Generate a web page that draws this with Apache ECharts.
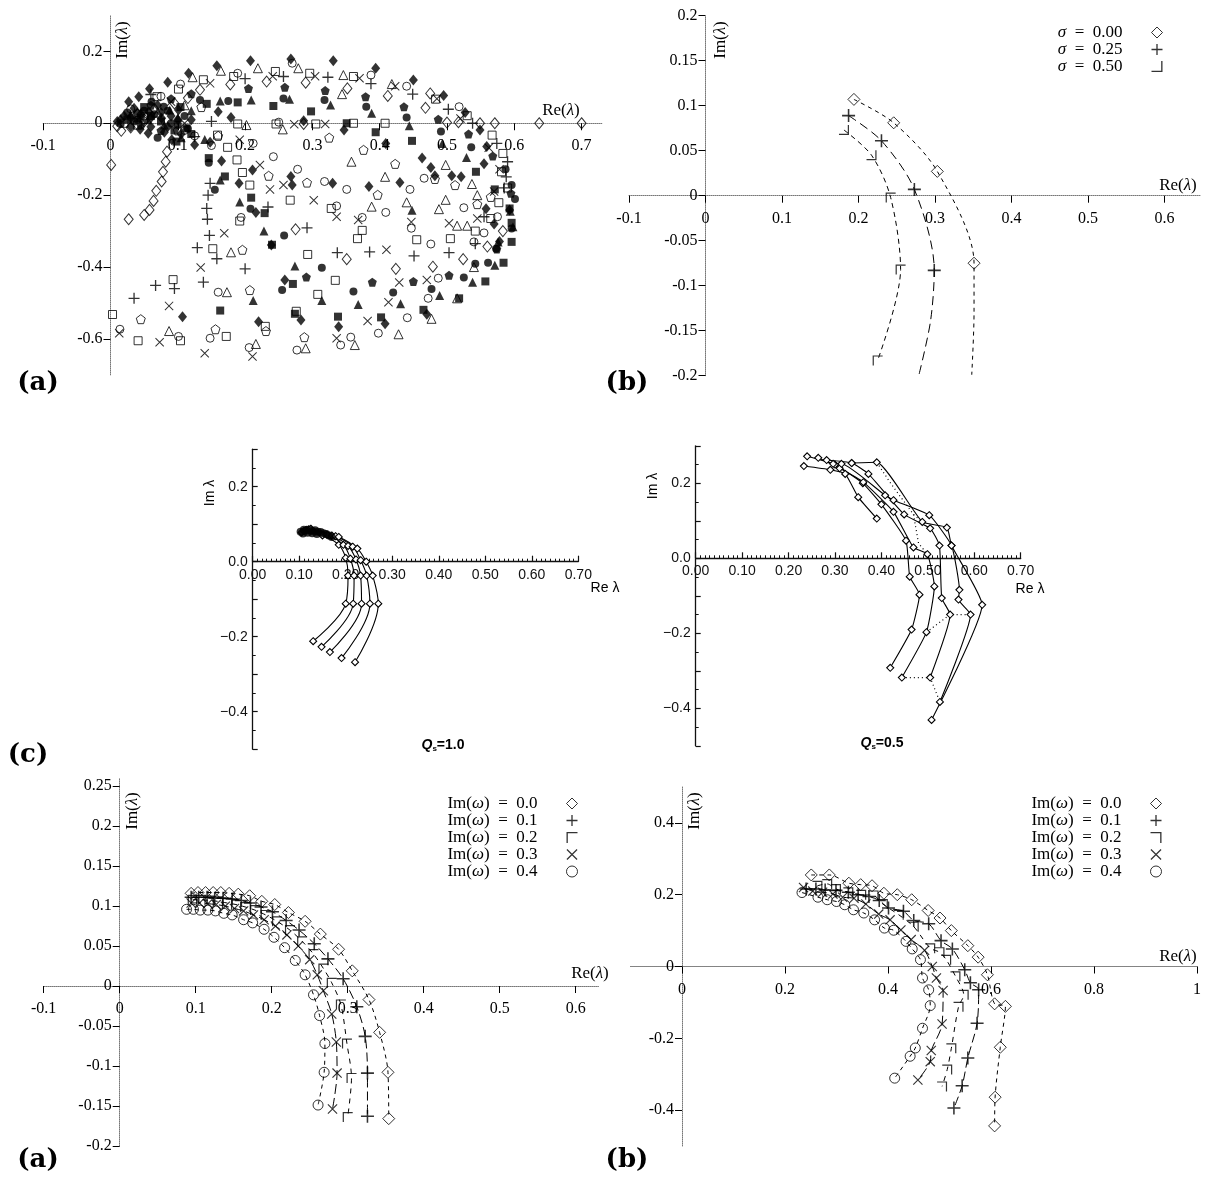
<!DOCTYPE html>
<html><head><meta charset="utf-8">
<script src="https://cdn.jsdelivr.net/npm/echarts@6/dist/echarts.min.js"></script>
<style>html,body{margin:0;padding:0;background:#fff}#c{width:1211px;height:1179px}</style>
</head><body><div id="c"></div><script>
// ---------------- DATA ----------------
// Panel top (a): scatter of eigenvalues, 12 marker kinds
const aDiamondFilled = [[0.331,0.174],[0.268,0.179],[0.208,0.174],[0.158,0.160],[0.116,0.139],[0.085,0.114],[0.058,0.096],[0.042,0.074],[0.027,0.060],[0.394,0.153],[0.450,0.120],[0.495,0.077],[0.527,0.030],[0.160,0.032],[0.179,0.016],[0.287,0.007],[0.347,-0.019],[0.549,-0.019],[0.409,-0.056],[0.559,-0.065],[0.463,-0.097],[0.476,-0.123],[0.482,-0.146],[0.507,-0.146],[0.521,-0.149],[0.555,-0.113],[0.384,-0.176],[0.430,-0.165],[0.330,-0.167],[0.148,-0.053],[0.165,-0.105],[0.211,-0.130],[0.191,-0.167],[0.268,-0.148],[0.270,-0.172],[0.216,-0.248],[0.239,-0.339],[0.259,-0.436],[0.220,-0.552],[0.283,-0.547],[0.107,-0.538],[0.470,-0.531],[0.339,-0.566],[0.408,-0.558],[0.558,-0.238],[0.593,-0.241],[0.570,-0.280],[0.578,-0.329],[0.076,0.014],[0.057,0.032],[0.101,0.037],[0.044,-0.017],[0.056,-0.028],[0.091,-0.046],[0.020,0.020],[0.035,0.042],[0.070,0.050],[0.120,0.010],[0.125,-0.060],[0.010,0.005],[0.085,-0.010],[0.105,-0.030],[0.015,0.010],[0.030,0.015],[0.045,0.025],[0.060,0.015],[0.075,0.030],[0.090,0.020],[0.100,0.010],[0.030,-0.010],[0.060,-0.010],[0.080,-0.025]];
const aDiamondOpen = [[0.700,0.000],[0.637,0.000],[0.571,0.000],[0.549,0.000],[0.517,0.003],[0.500,0.002],[0.475,0.083],[0.468,0.043],[0.412,0.076],[0.352,0.097],[0.290,0.113],[0.232,0.116],[0.178,0.108],[0.133,0.093],[0.287,-0.002],[0.001,-0.116],[0.016,-0.021],[0.084,-0.079],[0.082,-0.107],[0.078,-0.135],[0.076,-0.162],[0.068,-0.188],[0.064,-0.216],[0.058,-0.241],[0.050,-0.255],[0.027,-0.267],[0.275,-0.295],[0.351,-0.378],[0.424,-0.405],[0.479,-0.399],[0.524,-0.378],[0.560,-0.343],[0.583,-0.300],[0.095,0.055],[0.065,0.040],[0.040,0.025],[0.010,-0.008],[0.030,-0.012],[0.050,0.005],[0.115,0.070]];
const aPentFilled = [[0.120,0.082],[0.205,0.097],[0.259,0.100],[0.319,0.091],[0.379,0.074],[0.436,0.046],[0.487,0.011],[0.532,-0.030],[0.568,-0.091],[0.574,-0.350],[0.503,-0.423],[0.450,-0.440],[0.389,-0.442],[0.291,-0.428],[0.060,0.050],[0.090,0.068],[0.040,0.030],[0.595,-0.195],[0.075,-0.020],[0.045,-0.005]];
const aPentOpen = [[0.376,-0.074],[0.423,-0.113],[0.482,-0.155],[0.512,-0.172],[0.397,-0.199],[0.235,-0.146],[0.292,-0.165],[0.325,-0.040],[0.196,-0.352],[0.207,-0.464],[0.045,-0.545],[0.156,-0.573],[0.231,-0.578],[0.288,-0.595],[0.160,-0.035],[0.100,-0.020],[0.050,0.012],[0.545,-0.225],[0.565,-0.205],[0.135,0.045]];
const aCircleFilled = [[0.133,0.065],[0.175,0.062],[0.257,0.069],[0.318,0.065],[0.380,0.046],[0.440,0.016],[0.491,-0.023],[0.536,-0.067],[0.587,-0.128],[0.596,-0.172],[0.601,-0.211],[0.596,-0.293],[0.573,-0.349],[0.542,-0.391],[0.561,-0.388],[0.525,-0.429],[0.477,-0.461],[0.420,-0.471],[0.361,-0.468],[0.314,-0.402],[0.255,-0.464],[0.208,-0.238],[0.258,-0.312],[0.146,-0.110],[0.155,-0.185],[0.061,0.060],[0.079,0.046],[0.090,0.000],[0.070,-0.040],[0.040,0.010],[0.025,0.030],[0.110,0.020],[0.015,-0.002],[0.035,0.005],[0.050,0.035],[0.065,0.025],[0.085,0.035],[0.100,-0.005],[0.115,-0.015]];
const aCircleOpen = [[0.270,0.167],[0.189,0.139],[0.387,0.134],[0.104,0.109],[0.440,0.103],[0.518,0.046],[0.242,-0.093],[0.212,-0.056],[0.278,-0.128],[0.318,-0.162],[0.466,-0.153],[0.445,-0.184],[0.351,-0.184],[0.409,-0.248],[0.447,-0.292],[0.476,-0.336],[0.487,-0.431],[0.472,-0.487],[0.441,-0.541],[0.398,-0.584],[0.357,-0.595],[0.342,-0.617],[0.277,-0.631],[0.206,-0.624],[0.148,-0.598],[0.101,-0.593],[0.014,-0.573],[0.160,-0.470],[0.194,-0.262],[0.336,-0.230],[0.374,-0.262],[0.540,-0.330],[0.555,-0.305],[0.575,-0.260],[0.075,0.075],[0.050,0.020],[0.030,0.040],[0.110,-0.020],[0.125,-0.035],[0.150,-0.062],[0.250,0.003],[0.525,-0.235]];
const aTriFilled = [[0.163,0.062],[0.209,0.065],[0.266,0.067],[0.327,0.051],[0.388,0.028],[0.444,-0.007],[0.493,-0.056],[0.529,-0.095],[0.163,-0.158],[0.192,-0.219],[0.228,-0.300],[0.274,-0.397],[0.212,-0.493],[0.314,-0.493],[0.368,-0.504],[0.431,-0.502],[0.489,-0.479],[0.538,-0.442],[0.571,-0.395],[0.598,-0.288],[0.448,-0.242],[0.088,0.037],[0.105,-0.040],[0.594,-0.245],[0.576,-0.330],[0.030,0.025],[0.055,0.010],[0.080,-0.005],[0.100,0.015],[0.120,0.035],[0.140,-0.045]];
const aTriOpen = [[0.279,0.153],[0.219,0.153],[0.164,0.146],[0.122,0.128],[0.346,0.134],[0.344,0.081],[0.418,0.109],[0.358,-0.107],[0.408,-0.149],[0.498,-0.116],[0.537,-0.169],[0.388,-0.232],[0.440,-0.220],[0.498,-0.213],[0.488,-0.239],[0.515,-0.285],[0.173,-0.470],[0.087,-0.578],[0.216,-0.614],[0.290,-0.626],[0.363,-0.617],[0.428,-0.587],[0.477,-0.544],[0.515,-0.487],[0.179,-0.359],[0.202,-0.005],[0.256,-0.017],[0.545,-0.200],[0.530,-0.285],[0.540,-0.400],[0.070,0.030],[0.110,0.050]];
const aSquareFilled = [[0.104,0.045],[0.143,0.054],[0.189,0.058],[0.242,0.048],[0.298,0.033],[0.351,0.000],[0.394,-0.025],[0.448,-0.049],[0.543,-0.135],[0.571,-0.184],[0.593,-0.237],[0.596,-0.277],[0.596,-0.330],[0.584,-0.388],[0.557,-0.440],[0.518,-0.487],[0.465,-0.519],[0.402,-0.540],[0.338,-0.538],[0.274,-0.530],[0.163,-0.521],[0.271,-0.447],[0.240,-0.338],[0.209,-0.207],[0.229,-0.250],[0.170,-0.148],[0.146,-0.097],[0.113,-0.014],[0.098,-0.051],[0.060,0.020],[0.025,0.010],[0.045,0.015],[0.075,0.005],[0.095,-0.020],[0.120,-0.030],[0.050,0.045]];
const aSquareOpen = [[0.069,0.074],[0.101,0.095],[0.138,0.121],[0.183,0.130],[0.245,0.144],[0.296,0.139],[0.361,0.130],[0.483,0.067],[0.530,0.021],[0.567,-0.033],[0.583,-0.084],[0.581,-0.135],[0.577,-0.221],[0.565,-0.265],[0.542,-0.300],[0.505,-0.321],[0.455,-0.324],[0.374,-0.298],[0.367,-0.321],[0.328,-0.237],[0.267,-0.214],[0.192,-0.272],[0.152,-0.349],[0.093,-0.435],[0.003,-0.532],[0.041,-0.605],[0.104,-0.605],[0.172,-0.593],[0.230,-0.565],[0.276,-0.523],[0.308,-0.476],[0.334,-0.437],[0.293,-0.365],[0.189,-0.002],[0.246,-0.002],[0.305,-0.002],[0.361,0.000],[0.408,0.000],[0.159,-0.033],[0.174,-0.067],[0.188,-0.102],[0.196,-0.137],[0.207,-0.172],[0.020,0.000],[0.040,-0.005],[0.590,-0.180]];
const aPlus = [[0.200,0.124],[0.257,0.130],[0.323,0.128],[0.387,0.110],[0.449,0.081],[0.502,0.039],[0.538,0.000],[0.574,-0.056],[0.590,-0.107],[0.588,-0.149],[0.585,-0.180],[0.542,-0.335],[0.503,-0.360],[0.451,-0.369],[0.385,-0.358],[0.337,-0.360],[0.292,-0.291],[0.234,-0.233],[0.200,-0.405],[0.158,-0.377],[0.129,-0.346],[0.147,-0.312],[0.144,-0.267],[0.143,-0.237],[0.145,-0.200],[0.148,-0.167],[0.138,-0.442],[0.095,-0.460],[0.067,-0.451],[0.035,-0.487],[0.125,-0.037],[0.150,0.005],[0.060,0.080],[0.555,-0.260]];
const aCross = [[0.148,0.111],[0.241,0.131],[0.304,0.131],[0.370,0.125],[0.423,0.103],[0.485,0.068],[0.520,0.013],[0.562,-0.068],[0.578,-0.128],[0.570,-0.190],[0.545,-0.265],[0.503,-0.278],[0.447,-0.275],[0.368,-0.269],[0.336,-0.260],[0.410,-0.352],[0.429,-0.443],[0.413,-0.498],[0.382,-0.550],[0.336,-0.598],[0.169,-0.306],[0.134,-0.401],[0.087,-0.508],[0.013,-0.584],[0.073,-0.609],[0.140,-0.640],[0.211,-0.649],[0.192,-0.046],[0.222,-0.116],[0.237,-0.184],[0.257,-0.172],[0.273,-0.003],[0.319,-0.002],[0.302,-0.214],[0.470,-0.436],[0.090,0.060],[0.110,0.000]];

// Panel top (b): sigma curves (markers) and the dashed curves through them
const sigmaNames = ['σ = 0.00','σ = 0.25','σ = 0.50'];
const sig0Marks = [[0.194,0.107],[0.246,0.081],[0.303,0.027],[0.351,-0.075]];
const sig25Marks = [[0.187,0.089],[0.230,0.061],[0.273,0.007],[0.299,-0.083]];
const sig50Marks = [[0.181,0.073],[0.217,0.045],[0.242,-0.002],[0.255,-0.082],[0.225,-0.183]];
const sig0Curve = [[0.194,0.107],[0.246,0.081],[0.303,0.027],[0.351,-0.075],[0.351,-0.130],[0.348,-0.199]];
const sig25Curve = [[0.187,0.089],[0.230,0.061],[0.273,0.007],[0.299,-0.083],[0.294,-0.140],[0.279,-0.199]];
const sig50Curve = [[0.181,0.073],[0.217,0.045],[0.242,-0.002],[0.255,-0.082],[0.225,-0.183]];

// Panel (c): scanned plots, Q=1.0 (left) and Q=0.5 (right)
const q1Curve0 = [[0.105,0.078],[0.150,0.070],[0.185,0.045],[0.200,0.010],[0.205,-0.037],[0.200,-0.112],[0.130,-0.212]];
const q1Curve1 = [[0.110,0.082],[0.160,0.072],[0.195,0.045],[0.210,0.008],[0.218,-0.037],[0.216,-0.112],[0.148,-0.227]];
const q1Curve2 = [[0.115,0.085],[0.170,0.070],[0.205,0.042],[0.222,0.006],[0.232,-0.037],[0.234,-0.112],[0.166,-0.241]];
const q1Curve3 = [[0.120,0.086],[0.178,0.068],[0.215,0.040],[0.232,0.004],[0.245,-0.037],[0.252,-0.112],[0.191,-0.257]];
const q1Curve4 = [[0.125,0.088],[0.185,0.066],[0.225,0.035],[0.244,0.000],[0.258,-0.037],[0.270,-0.112],[0.220,-0.268]];
const q1Blob = [[0.103,0.080],[0.110,0.085],[0.116,0.083],[0.122,0.086],[0.128,0.082],[0.134,0.084],[0.140,0.080],[0.146,0.079],[0.152,0.076],[0.158,0.074],[0.108,0.075],[0.118,0.077],[0.128,0.076],[0.138,0.074],[0.164,0.070],[0.170,0.066]];
const q2Curve0 = [[0.233,0.246],[0.290,0.236],[0.322,0.225],[0.350,0.163],[0.390,0.106]];
const q2Curve1 = [[0.240,0.272],[0.300,0.250],[0.360,0.200],[0.400,0.144],[0.453,0.047],[0.461,-0.049],[0.482,-0.097],[0.465,-0.190],[0.419,-0.292]];
const q2Curve2 = [[0.264,0.268],[0.310,0.240],[0.361,0.203],[0.426,0.124],[0.469,0.029],[0.499,0.011],[0.514,-0.075],[0.497,-0.197],[0.444,-0.318]];
const q2Curve3 = [[0.282,0.262],[0.336,0.254],[0.372,0.225],[0.449,0.117],[0.505,0.080],[0.525,0.034],[0.530,-0.106],[0.548,-0.150],[0.505,-0.318]];
const q2Curve4 = [[0.296,0.252],[0.314,0.252],[0.408,0.168],[0.426,0.155],[0.503,0.115],[0.551,0.034],[0.568,-0.084],[0.566,-0.110],[0.592,-0.150],[0.526,-0.383]];
const q2Curve5 = [[0.336,0.254],[0.390,0.256],[0.488,0.097],[0.541,0.082],[0.551,0.034],[0.617,-0.124],[0.508,-0.431]];
const q2Dotted0 = [[0.444,-0.318],[0.505,-0.318],[0.526,-0.383]];
const q2Dotted1 = [[0.497,-0.197],[0.548,-0.150],[0.592,-0.150]];
const q2Dotted2 = [[0.390,0.256],[0.420,0.200],[0.469,0.117],[0.488,0.097]];
const q2Dotted3 = [[0.469,0.117],[0.480,0.040],[0.499,0.011]];

// Panels bottom (a) and (b): Im(omega) families
const omegaNames = ['Im(ω) = 0.0','Im(ω) = 0.1','Im(ω) = 0.2','Im(ω) = 0.3','Im(ω) = 0.4'];
const wa0 = [[0.094,0.116],[0.103,0.117],[0.113,0.117],[0.123,0.117],[0.133,0.117],[0.144,0.116],[0.156,0.115],[0.171,0.113],[0.187,0.106],[0.204,0.102],[0.222,0.092],[0.244,0.081],[0.264,0.065],[0.288,0.046],[0.306,0.019],[0.328,-0.017],[0.342,-0.058],[0.353,-0.108],[0.354,-0.166]];
const wa1 = [[0.094,0.111],[0.104,0.111],[0.115,0.111],[0.125,0.110],[0.136,0.110],[0.148,0.109],[0.160,0.107],[0.172,0.104],[0.186,0.099],[0.201,0.093],[0.219,0.082],[0.236,0.070],[0.256,0.053],[0.274,0.034],[0.294,0.009],[0.312,-0.026],[0.323,-0.063],[0.326,-0.109],[0.326,-0.163]];
const wa2 = [[0.096,0.108],[0.107,0.108],[0.118,0.107],[0.129,0.106],[0.141,0.104],[0.153,0.102],[0.165,0.099],[0.178,0.095],[0.192,0.089],[0.207,0.081],[0.224,0.070],[0.240,0.056],[0.255,0.040],[0.268,0.022],[0.279,0.004],[0.291,-0.023],[0.299,-0.072],[0.305,-0.115],[0.300,-0.164]];
const wa3 = [[0.094,0.104],[0.105,0.104],[0.116,0.103],[0.127,0.102],[0.139,0.100],[0.151,0.097],[0.163,0.094],[0.176,0.089],[0.190,0.083],[0.205,0.075],[0.220,0.064],[0.235,0.050],[0.250,0.033],[0.260,0.014],[0.268,-0.006],[0.279,-0.035],[0.285,-0.070],[0.286,-0.109],[0.280,-0.154]];
const wa4 = [[0.088,0.096],[0.097,0.096],[0.106,0.095],[0.116,0.095],[0.126,0.094],[0.137,0.091],[0.148,0.089],[0.163,0.083],[0.175,0.079],[0.190,0.071],[0.203,0.061],[0.217,0.048],[0.231,0.032],[0.244,0.014],[0.255,-0.011],[0.263,-0.037],[0.270,-0.072],[0.269,-0.108],[0.261,-0.149]];
const wb0 = [[0.251,0.255],[0.286,0.255],[0.324,0.232],[0.347,0.228],[0.369,0.225],[0.392,0.204],[0.418,0.200],[0.446,0.186],[0.478,0.156],[0.501,0.135],[0.523,0.100],[0.555,0.058],[0.575,0.026],[0.593,-0.023],[0.607,-0.104],[0.628,-0.111],[0.618,-0.225],[0.608,-0.364],[0.607,-0.444]];
const wb1 = [[0.241,0.216],[0.260,0.216],[0.278,0.213],[0.299,0.212],[0.323,0.207],[0.342,0.200],[0.363,0.195],[0.383,0.184],[0.401,0.163],[0.430,0.154],[0.450,0.128],[0.479,0.119],[0.503,0.072],[0.525,0.049],[0.549,-0.009],[0.560,-0.045],[0.576,-0.065],[0.573,-0.158],[0.555,-0.255],[0.544,-0.332],[0.528,-0.394]];
const wb2 = [[0.263,0.225],[0.282,0.230],[0.299,0.216],[0.323,0.207],[0.348,0.200],[0.372,0.198],[0.390,0.174],[0.421,0.144],[0.450,0.111],[0.482,0.051],[0.500,0.040],[0.513,0.019],[0.531,-0.027],[0.547,-0.079],[0.537,-0.112],[0.523,-0.228],[0.515,-0.287],[0.505,-0.334]];
const wb3 = [[0.236,0.220],[0.254,0.210],[0.273,0.207],[0.293,0.202],[0.312,0.193],[0.334,0.190],[0.357,0.174],[0.382,0.146],[0.404,0.130],[0.425,0.102],[0.445,0.075],[0.471,0.045],[0.486,0.000],[0.494,-0.032],[0.507,-0.067],[0.505,-0.160],[0.484,-0.234],[0.482,-0.265],[0.458,-0.316]];
const wb4 = [[0.233,0.206],[0.264,0.193],[0.282,0.186],[0.300,0.181],[0.316,0.172],[0.333,0.158],[0.353,0.149],[0.374,0.130],[0.393,0.107],[0.411,0.101],[0.435,0.070],[0.447,0.049],[0.463,0.019],[0.467,-0.032],[0.479,-0.065],[0.482,-0.109],[0.467,-0.172],[0.453,-0.227],[0.443,-0.250],[0.413,-0.311]];

// Tick values
const aXTicks = [-0.1,0,0.1,0.2,0.3,0.4,0.5,0.6,0.7];
const aYTicks = [-0.6,-0.4,-0.2,0,0.2];
const bXTicks = [-0.1,0,0.1,0.2,0.3,0.4,0.5,0.6];
const bYTicks = [-0.2,-0.15,-0.1,-0.05,0,0.05,0.1,0.15,0.2];
const cYTicks = [-0.4,-0.2,0,0.2];
const waXTicks = [-0.1,0,0.1,0.2,0.3,0.4,0.5,0.6];
const waYTicks = [-0.2,-0.15,-0.1,-0.05,0,0.05,0.1,0.15,0.2,0.25];
const wbXTicks = [0,0.2,0.4,0.6,0.8,1];
const wbYTicks = [-0.4,-0.2,0,0.2,0.4];

// ---------------- STYLE / LAYOUT ----------------
const SERIF = '"Liberation Serif", "DejaVu Serif", serif';
const SANS = '"Liberation Sans", "DejaVu Sans", sans-serif';
const SYM = {
  pent: 'path://M5,0L10,3.63L8.09,9.51L1.91,9.51L0,3.63Z',
  plus: 'path://M0,4.4H10V5.6H0Z M4.4,0H5.6V10H4.4Z',
  cross: 'path://M0,0.8L0.8,0L10,9.2L9.2,10Z M9.2,0L10,0.8L0.8,10L0,9.2Z',
  br: 'path://M8.8,0H10V10H0V8.8H8.8Z',
  tl: 'path://M0,0H10V1.2H1.2V10H0Z',
  tr: 'path://M0,0H10V10H8.8V1.2H0Z'
};
const OPEN = {color:'rgba(255,255,255,0)', borderColor:'#000', borderWidth:1};
const FILL = {color:'#000', borderWidth:0};
const fmtNum = v => String(+(+v).toFixed(3));

const GRIDS = [
  {left:43.2, top:15.4, width:558.6, height:359.5},
  {left:629, top:15.7, width:571.5, height:360},
  {left:252.7, top:449.2, width:325.6, height:300},
  {left:695.7, top:445.8, width:325, height:300},
  {left:43.7, top:778.3, width:554.8, height:367.5},
  {left:630.5, top:787, width:566.5, height:359}
];
// offset (negative = moved inward) that puts an axis on the other axis's zero
const zeroOff = (min, max, size) => -((0 - min) / (max - min)) * size;

function texX(gi, min, max, ticks, yMin, yMax) {
  return {type:'value', gridIndex:gi, min, max, position:'bottom',
    offset: zeroOff(yMin, yMax, GRIDS[gi].height),
    axisLine:{show:true, onZero:false, lineStyle:{color:'#777', type:'dotted', width:1}},
    axisTick:{show:true, length:7, customValues:ticks, lineStyle:{color:'#000', width:1}},
    axisLabel:{color:'#000', fontFamily:SERIF, fontSize:16, margin:15, customValues:ticks, formatter:fmtNum},
    splitLine:{show:false}};
}
function texY(gi, min, max, ticks, xMin, xMax) {
  return {type:'value', gridIndex:gi, min, max, position:'left',
    offset: zeroOff(xMin, xMax, GRIDS[gi].width),
    axisLine:{show:true, onZero:false, lineStyle:{color:'#777', type:'dotted', width:1}},
    axisTick:{show:true, length:7, customValues:ticks, lineStyle:{color:'#000', width:1}},
    axisLabel:{color:'#000', fontFamily:SERIF, fontSize:16, margin:8, customValues:ticks, formatter:fmtNum},
    splitLine:{show:false}};
}
function scanX(gi) {
  return {type:'value', gridIndex:gi, min:0, max:0.7, interval:0.1, position:'bottom',
    offset: zeroOff(-0.5, 0.3, GRIDS[gi].height),
    axisLine:{show:true, onZero:false, lineStyle:{color:'#111', width:1.3}},
    axisTick:{show:true, inside:true, length:6, lineStyle:{color:'#111', width:1.2}},
    minorTick:{show:true, splitNumber:10, length:3, lineStyle:{color:'#111', width:1}},
    axisLabel:{color:'#111', fontFamily:SANS, fontSize:14, margin:6, formatter:v => (+v).toFixed(2)},
    splitLine:{show:false}, minorSplitLine:{show:false}};
}
function scanY(gi) {
  return {type:'value', gridIndex:gi, min:-0.5, max:0.3, interval:0.1, position:'left',
    axisLine:{show:true, onZero:false, lineStyle:{color:'#111', width:1.3}},
    axisTick:{show:true, inside:true, length:5, lineStyle:{color:'#111', width:1.2}},
    minorTick:{show:true, splitNumber:2, length:3, lineStyle:{color:'#111', width:1}},
    axisLabel:{color:'#111', fontFamily:SANS, fontSize:14, margin:5, customValues:cYTicks,
      formatter:v => (v < -1e-9 ? '\u2212' : '') + Math.abs(+v).toFixed(1)},
    splitLine:{show:false}, minorSplitLine:{show:false}};
}

function sc(name, gi, data, symbol, size, style, extra) {
  return Object.assign({type:'scatter', name, xAxisIndex:gi, yAxisIndex:gi, data, symbol, symbolSize:size,
    itemStyle:style, silent:true, animation:false, z:3}, extra || {});
}
function ln(name, gi, data, dash, extra) {
  return Object.assign({type:'line', name, xAxisIndex:gi, yAxisIndex:gi, data, showSymbol:false, symbol:'none',
    smooth:0.3, lineStyle:{color:'#000', width:1, type:dash}, silent:true, animation:false, z:2}, extra || {});
}
function markedLine(name, gi, data, extra) {
  return Object.assign({type:'line', name, xAxisIndex:gi, yAxisIndex:gi, data, showSymbol:true, symbol:'diamond',
    symbolSize:7, smooth:0.35, itemStyle:{color:'#fff', borderColor:'#000', borderWidth:1.1},
    lineStyle:{color:'#000', width:1.1}, silent:true, animation:false, z:2}, extra || {});
}

const series = [];
// top (a)
const aGroups = [
  [aDiamondOpen, 'diamond', [9,11], OPEN],
  [aCircleOpen, 'circle', 8, OPEN],
  [aTriOpen, 'triangle', 9, OPEN],
  [aSquareOpen, 'rect', 8, OPEN],
  [aPentOpen, SYM.pent, 9, OPEN],
  [aPlus, SYM.plus, 11, FILL],
  [aCross, SYM.cross, 9, FILL],
  [aDiamondFilled, 'diamond', [9,11], FILL],
  [aCircleFilled, 'circle', 8, FILL],
  [aTriFilled, 'triangle', 9, FILL],
  [aSquareFilled, 'rect', 8, FILL],
  [aPentFilled, SYM.pent, 9, FILL]
];
aGroups.forEach((g, i) => series.push(sc('a' + i, 0, g[0], g[1], g[2], g[3])));

// top (b)
series.push(ln('s0line', 1, sig0Curve, [4,4]));
series.push(ln('s25line', 1, sig25Curve, [9,5]));
series.push(ln('s50line', 1, sig50Curve, [5,4]));
series.push(sc(sigmaNames[0], 1, sig0Marks, 'diamond', 12, OPEN));
series.push(sc(sigmaNames[1], 1, sig25Marks, SYM.plus, 13, FILL));
series.push(sc(sigmaNames[2], 1, sig50Marks, (v, p) => (p.dataIndex < 2 ? SYM.br : SYM.tl), 10, FILL));

// (c) left
[q1Curve0, q1Curve1, q1Curve2, q1Curve3, q1Curve4].forEach((d, i) => series.push(markedLine('q1c' + i, 2, d)));
series.push(sc('q1blob', 2, q1Blob, 'circle', 8, FILL));
// (c) right
[q2Curve0, q2Curve1, q2Curve2, q2Curve3, q2Curve4, q2Curve5].forEach((d, i) => series.push(markedLine('q2c' + i, 3, d, {smooth:0.15})));
[q2Dotted0, q2Dotted1, q2Dotted2, q2Dotted3].forEach((d, i) => series.push(ln('q2d' + i, 3, d, 'dotted', {smooth:0, lineStyle:{color:'#000', width:1.2, type:[1,3]}})));

// bottom (a) and (b)
const waSets = [wa0, wa1, wa2, wa3, wa4];
const wbSets = [wb0, wb1, wb2, wb3, wb4];
const wDash = [[4,4],[9,4],[5,5],[10,4],[4,4]];
const waSym = [['diamond', 12, OPEN], [SYM.plus, 13, FILL], [SYM.tl, 10, FILL], [SYM.cross, 10, FILL], ['circle', 10, OPEN]];
const wbSym = [['diamond', 12, OPEN], [SYM.plus, 13, FILL], [SYM.tr, 10, FILL], [SYM.cross, 10, FILL], ['circle', 10, OPEN]];
waSets.forEach((d, i) => series.push(ln('waL' + i, 4, d, wDash[i])));
wbSets.forEach((d, i) => series.push(ln('wbL' + i, 5, d, wDash[i])));
waSets.forEach((d, i) => series.push(sc(omegaNames[i], 4, d, waSym[i][0], waSym[i][1], waSym[i][2])));
wbSets.forEach((d, i) => series.push(sc(omegaNames[i] + '\u200b', 5, d, wbSym[i][0], wbSym[i][1], wbSym[i][2])));

// legends
const legendFmt = name => name.replace('\u200b', '').replace(' = ', '\u2002=\u2002').replace(/(σ|ω)/, '{i|$1}');
function legendBase(extra) {
  return Object.assign({orient:'vertical', align:'right', itemWidth:11, itemHeight:11, itemGap:0, padding:0,
    selectedMode:false, formatter:legendFmt,
    itemStyle:{borderWidth:1},
    textStyle:{fontFamily:SERIF, fontSize:17, color:'#000', lineHeight:16, padding:[0,24,0,0],
      rich:{i:{fontFamily:SERIF, fontSize:17, fontStyle:'italic', lineHeight:16}}}}, extra);
}
const legends = [
  legendBase({right:48, top:24, data:[{name:sigmaNames[0]}, {name:sigmaNames[1]}, {name:sigmaNames[2], icon:SYM.br}]}),
  legendBase({right:633, top:795, data:omegaNames.slice()}),
  legendBase({right:49, top:795, data:omegaNames.map(n => n + '\u200b')})
];

// text
const RICH = {i:{fontFamily:SERIF, fontSize:17, fontStyle:'italic'}};
function txt(x, y, text, o) {
  o = o || {};
  return {type:'text', x, y, rotation:o.rot || 0, silent:true, z:100,
    style:{text, fontFamily:o.ff || SERIF, fontSize:o.fs || 17, fontWeight:o.fw || 'normal', fill:'#000',
      align:'center', verticalAlign:'middle', rich:o.rich || RICH}};
}
const QRICH = {q:{fontFamily:SANS, fontSize:14, fontStyle:'italic', fontWeight:'bold'},
  s:{fontFamily:SANS, fontSize:8, fontWeight:'bold', padding:[7,0,0,0]},
  t:{fontFamily:SANS, fontSize:14, fontWeight:'bold'}};
const BOLD = {ff:'"DejaVu Serif", serif', fs:26, fw:'bold'};
const graphics = [
  txt(38, 383, '(a)', BOLD),
  txt(627, 383, '(b)', BOLD),
  txt(28, 755, '(c)', BOLD),
  txt(38, 1160, '(a)', BOLD),
  txt(627, 1160, '(b)', BOLD),
  txt(123, 40, 'Im({i|λ})', {rot:Math.PI / 2}),
  txt(561, 111, 'Re({i|λ})'),
  txt(721, 40, 'Im({i|λ})', {rot:Math.PI / 2}),
  txt(1178, 186, 'Re({i|λ})'),
  txt(133, 811, 'Im({i|λ})', {rot:Math.PI / 2}),
  txt(590, 974, 'Re({i|λ})'),
  txt(695, 811, 'Im({i|λ})', {rot:Math.PI / 2}),
  txt(1178, 957, 'Re({i|λ})'),
  txt(210, 493, 'Im λ', {ff:SANS, fs:14, rot:Math.PI / 2}),
  txt(605, 588, 'Re λ', {ff:SANS, fs:14}),
  txt(653, 486, 'Im λ', {ff:SANS, fs:14, rot:Math.PI / 2}),
  txt(1030, 589, 'Re λ', {ff:SANS, fs:14}),
  txt(443, 745, '{q|Q}{s|s}{t|=1.0}', {ff:SANS, fs:14, rich:QRICH}),
  txt(882, 743, '{q|Q}{s|s}{t|=0.5}', {ff:SANS, fs:14, rich:QRICH})
];

const option = {
  backgroundColor:'#fff',
  animation:false,
  grid:GRIDS,
  xAxis:[
    texX(0, -0.1, 0.73, aXTicks, -0.7, 0.3),
    texX(1, -0.1, 0.647, bXTicks, -0.2, 0.2),
    scanX(2), scanX(3),
    texX(4, -0.1, 0.63, waXTicks, -0.2, 0.26),
    texX(5, -0.1, 1.0, wbXTicks, -0.5, 0.5)
  ],
  yAxis:[
    texY(0, -0.7, 0.3, aYTicks, -0.1, 0.73),
    texY(1, -0.2, 0.2, bYTicks, -0.1, 0.647),
    scanY(2), scanY(3),
    texY(4, -0.2, 0.26, waYTicks, -0.1, 0.63),
    texY(5, -0.5, 0.5, wbYTicks, -0.1, 1.0)
  ],
  legend:legends,
  series,
  graphic:graphics
};
const chart = echarts.init(document.getElementById('c'), null, {renderer:'canvas'});
chart.setOption(option);
</script></body></html>
